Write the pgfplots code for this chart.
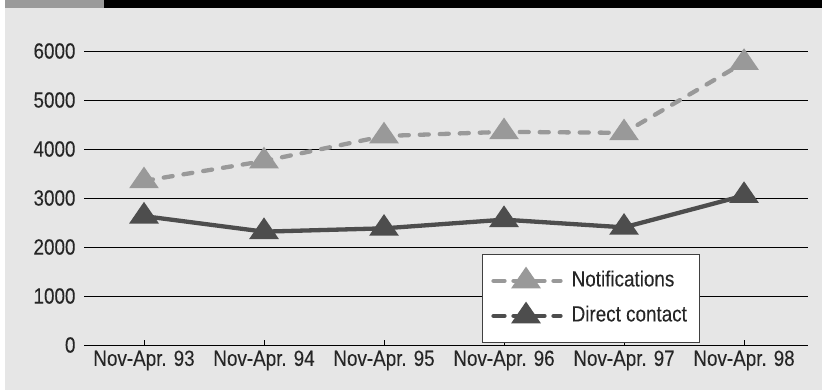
\documentclass[border=0pt]{standalone}
\usepackage{fontspec}
\setmainfont{Liberation Sans}[FakeStretch=0.86, FakeBold=0.12]
\usepackage{pgfplots}
\pgfplotsset{compat=1.18}
\definecolor{notif}{HTML}{999999}
\definecolor{direct}{HTML}{4D4D4D}
\definecolor{bg}{HTML}{E6E6E6}
\definecolor{topgray}{HTML}{9A9A9A}
\begin{document}
\begin{tikzpicture}
\useasboundingbox (-84bp,-45bp) rectangle (738bp,345bp);
\fill[white] (-84bp,-45bp) rectangle (738bp,345bp);
\fill[bg] (-79bp,-45bp) rectangle (738bp,337bp);
\fill[topgray] (-79bp,337bp) rectangle (20bp,345bp);
\fill[black] (20bp,337bp) rectangle (738bp,345bp);
\begin{axis}[
  scale only axis, width=724bp, height=294bp,
  at={(0,0)}, anchor=south west,
  xmin=-0.5, xmax=5.533, ymin=0, ymax=6000,
  xtick={0,1,2,3,4,5},
  xticklabels={Nov-Apr. 93,Nov-Apr. 94,Nov-Apr. 95,Nov-Apr. 96,Nov-Apr. 97,Nov-Apr. 98},
  ytick={0,1000,2000,3000,4000,5000,6000},
  ymajorgrids, grid style={black, line width=0.8bp},
  axis line style={draw=none},
  xtick pos=bottom, ytick pos=left,
  tick align=inside,
  xtick style={black, line width=0.8bp},
  ytick style={draw=none},
  major tick length=5bp,
  /pgf/number format/assume math mode=true,
  /pgf/number format/1000 sep={},
  tick label style={font=\fontsize{22}{25}\selectfont, text=black!85},
  yticklabel style={xshift=-5bp},
  xticklabel style={yshift=-2bp},
  legend style={at={(0.5497,0.3095)}, anchor=north west, fill=white, draw=black!75, line width=0.8bp,
    inner xsep=7bp, inner ysep=12bp, row sep=6bp,
    /tikz/every odd column/.append style={column sep=4bp},
    nodes={inner sep=5bp, text height=15bp, text depth=4bp, font=\fontsize{22}{25}\selectfont, text=black!85}},
  legend cell align=left,
  legend image code/.code={\draw[mark repeat=2,mark phase=2,#1, dash pattern=on 11bp off 9bp, dash phase=-2bp] plot coordinates {(2bp,0bp) (36.5bp,0bp) (71bp,0bp)};},
]
\addplot[notif, line width=4.3bp, line cap=round, dash pattern=on 9bp off 11bp,
  mark=triangle*, mark size=12.5bp, mark options={solid, draw=none, fill=notif, yscale=0.84}]
  coordinates {(0,3350) (1,3755) (2,4265) (3,4350) (4,4330) (5,5765)};
\addlegendentry{Notifications}
\addplot[direct, line width=4.3bp, line cap=round,
  mark=triangle*, mark size=12.5bp, mark options={solid, draw=none, fill=direct, yscale=0.84}]
  coordinates {(0,2630) (1,2313) (2,2381) (3,2558) (4,2401) (5,3050)};
\addlegendentry{Direct contact}
\end{axis}
\end{tikzpicture}
\end{document}
